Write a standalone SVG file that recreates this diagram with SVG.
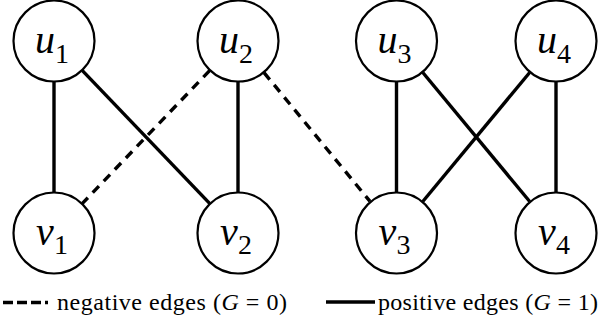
<svg xmlns="http://www.w3.org/2000/svg" width="606" height="324" viewBox="0 0 606 324">
<style>
.node circle{fill:#fff;stroke:#000;stroke-width:2.2}
.lbl{font-family:'Liberation Serif','Times New Roman','DejaVu Serif',serif;font-size:40px;font-style:italic;text-anchor:middle;fill:#000}
.sub{font-style:normal;font-size:28px}
.pos{stroke:#000;stroke-width:3.4;fill:none}
.neg{stroke:#000;stroke-width:3.4;fill:none;stroke-dasharray:9 7}
.leg{font-family:'Liberation Serif','Times New Roman','DejaVu Serif',serif;font-size:24px;fill:#000}
</style>
<rect width="606" height="324" fill="#fff"/>
<g id="connectors">
<line class="pos" x1="54" y1="82" x2="54" y2="192"/>
<line class="pos" x1="82.4" y1="70.6" x2="209.6" y2="203.4"/>
<line class="neg" x1="209.6" y1="70.6" x2="82.4" y2="203.4"/>
<line class="pos" x1="238" y1="82" x2="238" y2="192"/>
<line class="neg" x1="264" y1="72.6" x2="370" y2="201.4"/>
<line class="pos" x1="396.5" y1="82" x2="396.5" y2="192"/>
<line class="pos" x1="422.8" y1="72.5" x2="529.7" y2="201.5"/>
<line class="pos" x1="529.7" y1="72.5" x2="422.8" y2="201.5"/>
<line class="pos" x1="556" y1="82" x2="556" y2="192"/>
</g>
<g id="u1" class="node"><circle cx="54" cy="41" r="40.5"/><text class="lbl" x="52" y="53">u<tspan class="sub" dy="10">1</tspan></text></g>
<g id="u2" class="node"><circle cx="238" cy="41" r="40.5"/><text class="lbl" x="236" y="53">u<tspan class="sub" dy="10">2</tspan></text></g>
<g id="u3" class="node"><circle cx="396.5" cy="41" r="40.5"/><text class="lbl" x="394.5" y="53">u<tspan class="sub" dy="10">3</tspan></text></g>
<g id="u4" class="node"><circle cx="556" cy="41" r="40.5"/><text class="lbl" x="554" y="53">u<tspan class="sub" dy="10">4</tspan></text></g>
<g id="v1" class="node"><circle cx="54" cy="233" r="40.5"/><text class="lbl" x="52" y="245">v<tspan class="sub" dy="9">1</tspan></text></g>
<g id="v2" class="node"><circle cx="238" cy="233" r="40.5"/><text class="lbl" x="236" y="245">v<tspan class="sub" dy="9">2</tspan></text></g>
<g id="v3" class="node"><circle cx="396.5" cy="233" r="40.5"/><text class="lbl" x="394.5" y="245">v<tspan class="sub" dy="9">3</tspan></text></g>
<g id="v4" class="node"><circle cx="556" cy="233" r="40.5"/><text class="lbl" x="554" y="245">v<tspan class="sub" dy="9">4</tspan></text></g>
<g id="legend">
<line x1="3" y1="302.5" x2="48" y2="302.5" stroke="#000" stroke-width="3.5" stroke-dasharray="10 4"/>
<text class="leg" x="57" y="310" textLength="230" lengthAdjust="spacing">negative edges (<tspan font-style="italic">G</tspan> = 0)</text>
<line x1="326" y1="302" x2="375" y2="302" stroke="#000" stroke-width="3.5"/>
<text class="leg" x="378" y="310" textLength="220" lengthAdjust="spacing">positive edges (<tspan font-style="italic">G</tspan> = 1)</text>
</g>
</svg>
